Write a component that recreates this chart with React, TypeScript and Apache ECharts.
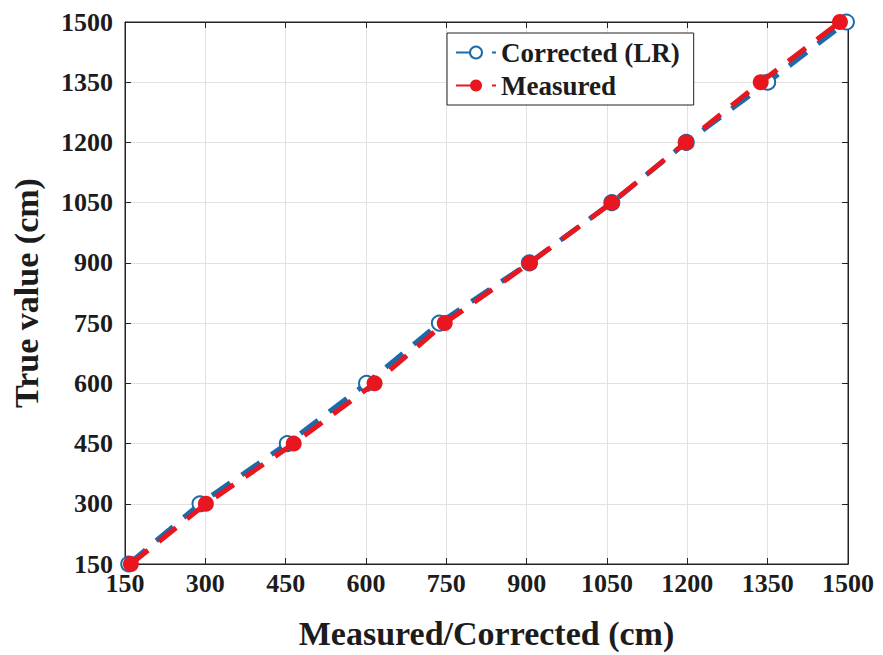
import React, { useEffect, useRef } from "react";
import * as echarts from "echarts";

const trueValues = [150, 300, 450, 600, 750, 900, 1050, 1200, 1350, 1500];
const correctedLR = [157, 290, 453, 601, 737, 905, 1059, 1198, 1350, 1497];
const measured = [161, 301, 465, 616, 747, 906, 1059, 1197, 1337, 1485];
const ticks = [150, 300, 450, 600, 750, 900, 1050, 1200, 1350, 1500];

const FONT = "Liberation Serif";
const TEXT = "#1c1c1c";

export default function App() {
  const ref = useRef<HTMLDivElement>(null);
  useEffect(() => {
    document.body.style.margin = "0";
    const chart = echarts.init(ref.current!, null, { renderer: "svg" });
    const axisCommon = {
      type: "value" as const,
      min: ticks[0],
      max: ticks[ticks.length - 1],
      interval: 150,
    };
    const fmt = (v: number) => String(v);
    chart.setOption({
      animation: false,
      backgroundColor: "#fff",
      grid: {
        left: 125,
        right: 35,
        top: 22,
        bottom: 91,
        show: true,
        borderColor: "#222",
        borderWidth: 1,
        backgroundColor: "#fff",
      },
      legend: {
        left: 447,
        top: 33,
        orient: "vertical",
        backgroundColor: "#fff",
        borderColor: "#222",
        borderWidth: 1,
        borderRadius: 0,
        padding: [6, 14, 6, 8],
        itemGap: 6,
        itemWidth: 40,
        itemHeight: 15,
        textStyle: { fontFamily: FONT, fontWeight: "bold", fontSize: 27, color: TEXT },
        data: ["Corrected (LR)", "Measured"],
      },
      xAxis: [
        {
          ...axisCommon,
          position: "bottom",
          name: "Measured/Corrected (cm)",
          nameLocation: "middle",
          nameGap: 52,
          nameTextStyle: { fontFamily: FONT, fontWeight: "bold", fontSize: 34, color: TEXT },
          axisLine: { show: true, lineStyle: { color: "#222", width: 1 } },
          axisTick: { show: true, inside: true, length: 6, lineStyle: { color: "#222" } },
          axisLabel: { fontFamily: FONT, fontWeight: "bold", fontSize: 26, color: TEXT, margin: 6, formatter: fmt },
          splitLine: { show: true, lineStyle: { color: "#e2e2e2", width: 1 } },
        },
        {
          ...axisCommon,
          position: "top",
          axisLine: { show: true, lineStyle: { color: "#222", width: 1 } },
          axisTick: { show: true, inside: true, length: 6, lineStyle: { color: "#222" } },
          axisLabel: { show: false },
          splitLine: { show: false },
        },
      ],
      yAxis: [
        {
          ...axisCommon,
          position: "left",
          name: "True value (cm)",
          nameLocation: "middle",
          nameGap: 82,
          nameTextStyle: { fontFamily: FONT, fontWeight: "bold", fontSize: 34, color: TEXT },
          axisLine: { show: true, lineStyle: { color: "#222", width: 1 } },
          axisTick: { show: true, inside: true, length: 6, lineStyle: { color: "#222" } },
          axisLabel: { fontFamily: FONT, fontWeight: "bold", fontSize: 26, color: TEXT, margin: 12, formatter: fmt },
          splitLine: { show: true, lineStyle: { color: "#e2e2e2", width: 1 } },
        },
        {
          ...axisCommon,
          position: "right",
          axisLine: { show: true, lineStyle: { color: "#222", width: 1 } },
          axisTick: { show: true, inside: true, length: 6, lineStyle: { color: "#222" } },
          axisLabel: { show: false },
          splitLine: { show: false },
        },
      ],
      series: [
        {
          name: "Corrected (LR)",
          type: "line",
          xAxisIndex: 0,
          yAxisIndex: 0,
          data: trueValues.map((t, i) => [correctedLR[i], t]),
          symbol: "emptyCircle",
          symbolSize: 15,
          lineStyle: { color: "#1b6aa9", width: 5, type: [22, 14] },
          itemStyle: { color: "#1b6aa9", borderColor: "#1b6aa9", borderWidth: 4.5 },
          z: 2,
        },
        {
          name: "Measured",
          type: "line",
          xAxisIndex: 0,
          yAxisIndex: 0,
          data: trueValues.map((t, i) => [measured[i], t]),
          symbol: "circle",
          symbolSize: 16,
          lineStyle: { color: "#e8161f", width: 5, type: [22, 14] },
          itemStyle: { color: "#e8161f" },
          z: 3,
        },
      ],
    });
    return () => chart.dispose();
  }, []);
  return <div ref={ref} style={{ width: 883, height: 655 }} />;
}
